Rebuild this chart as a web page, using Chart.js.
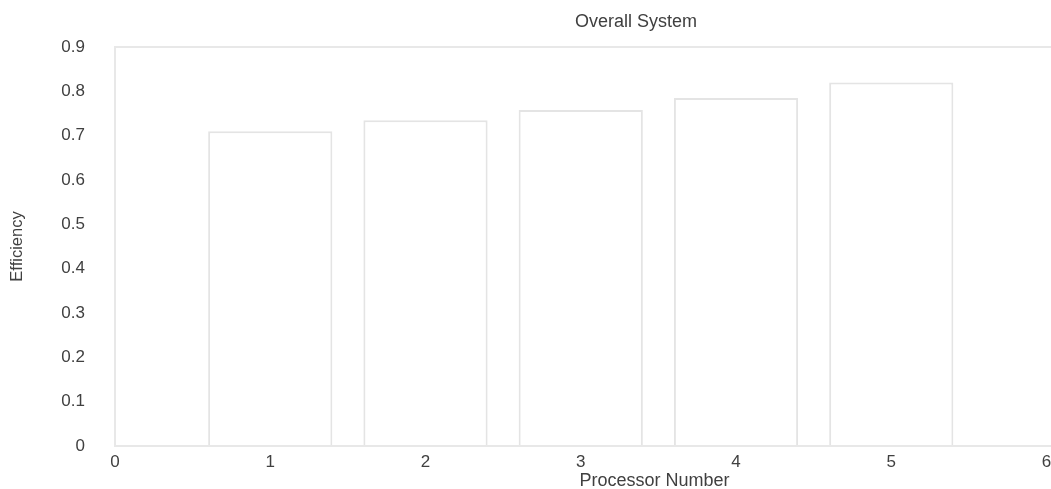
<!DOCTYPE html>
<html>
<head>
<meta charset="utf-8">
<script src="https://cdn.jsdelivr.net/npm/chart.js@4/dist/chart.umd.min.js"></script>
<style>
  html, body { margin: 0; padding: 0; background: #ffffff; overflow: hidden; }
  #wrap { width: 1194px; height: 500px; }
</style>
</head>
<body>
<div id="wrap"><canvas id="c" width="1194" height="500"></canvas></div>
<script>
// ---- data ----
const chartTitle = "Overall System";
const xAxisTitle = "Processor Number";
const yAxisTitle = "Efficiency";
const processors = [1, 2, 3, 4, 5];
const efficiency = [0.71, 0.735, 0.758, 0.785, 0.82];
const xTickValues = [0, 1, 2, 3, 4, 5, 6];
const yTickMax = 0.9;

const textColor = "#404040";
const faint = "#e8e8e8";
const font = "'Liberation Sans', Arial, sans-serif";

const points = processors.map((p, i) => ({ x: p, y: efficiency[i] }));

// the reference title sits right of the plot centre: shift the title box
const titleShift = {
  id: "titleShift",
  afterLayout(chart) {
    if (chart.titleBlock) { chart.titleBlock.left += 78; }
  }
};

new Chart(document.getElementById("c"), {
  type: "bar",
  data: {
    datasets: [{
      data: points,
      backgroundColor: "#ffffff",
      borderColor: "#e4e4e4",
      borderWidth: 2,
      barPercentage: 0.8,
      categoryPercentage: 1.0
    }]
  },
  plugins: [titleShift],
  options: {
    responsive: false,
    animation: false,
    layout: { padding: { left: 0, right: 0, top: 0, bottom: 0 } },
    plugins: {
      legend: { display: false },
      tooltip: { enabled: false },
      title: {
        display: true,
        text: chartTitle,
        color: textColor,
        font: { family: font, size: 18, weight: "normal" },
        padding: { top: 11, bottom: 14.4 }
      }
    },
    scales: {
      x: {
        type: "linear",
        min: 0,
        max: 6.95,
        offset: false,
        afterFit: (s) => { s.height = 54; },
        afterBuildTicks: (s) => { s.ticks = xTickValues.map(v => ({ value: v })); },
        ticks: {
          stepSize: 1,
          includeBounds: false,
          autoSkip: false,
          maxRotation: 0,
          padding: 6,
          color: textColor,
          font: { family: font, size: 17 }
        },
        grid: { display: false, drawTicks: false },
        border: { display: true, color: faint, width: 2 },
        title: {
          display: true,
          text: xAxisTitle,
          color: textColor,
          font: { family: font, size: 18 },
          padding: { top: 0, bottom: 8 }
        }
      },
      y: {
        min: 0,
        max: yTickMax,
        afterFit: (s) => { s.width = 115; },
        ticks: {
          stepSize: 0.1,
          padding: 30,
          color: textColor,
          font: { family: font, size: 17 },
          callback: (v) => Number(v.toFixed(1)).toString()
        },
        grid: {
          drawTicks: false,
          color: (ctx) => (ctx.tick && Math.abs(ctx.tick.value - yTickMax) < 1e-9 ? faint : "rgba(0,0,0,0)"),
          lineWidth: 2
        },
        border: { display: true, color: faint, width: 2 },
        title: {
          display: true,
          text: yAxisTitle,
          color: textColor,
          font: { family: font, size: 16.5 },
          padding: { top: 8, bottom: 0 }
        }
      }
    }
  }
});
</script>
</body>
</html>
